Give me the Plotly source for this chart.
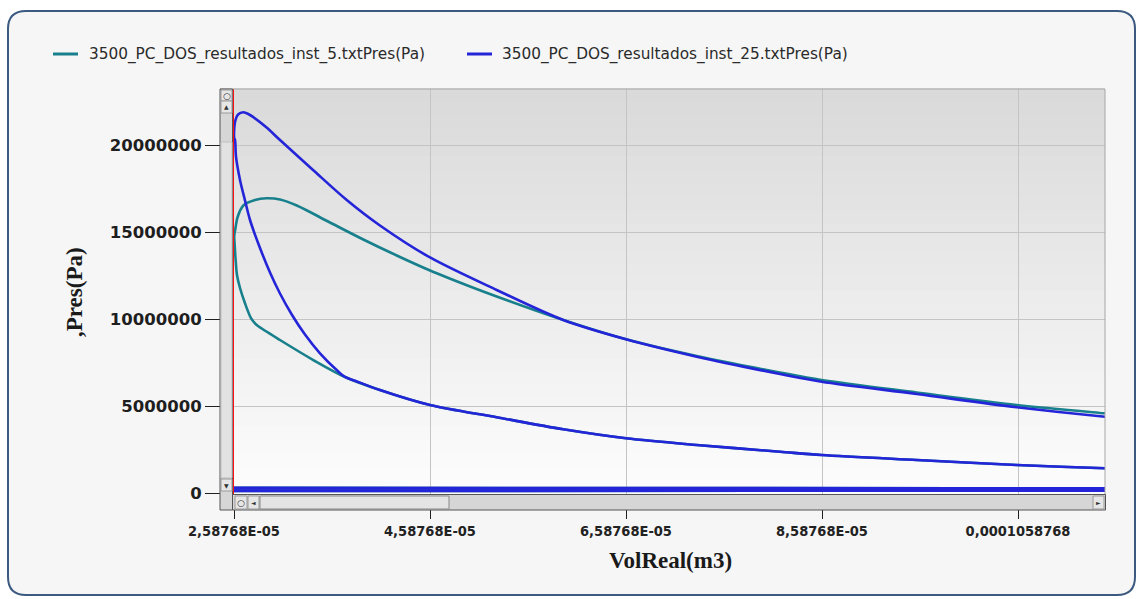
import plotly.graph_objects as go

# ---------------- data (volume in 1e-5 m3, pressure in MPa) ----------------
series_names = ["3500_PC_DOS_resultados_inst_5.txtPres(Pa)",
                "3500_PC_DOS_resultados_inst_25.txtPres(Pa)"]

# inst_25 (blue): compression from BDC to TDC, combustion, expansion back to BDC
vol25 = [12.50, 11.475, 10.574, 9.554, 8.584, 8.159, 7.309, 6.588, 5.948, 5.268, 4.588, 4.077,
         3.822, 3.720, 3.649, 3.465, 3.312, 3.180, 3.057, 2.955, 2.853, 2.751, 2.700, 2.649,
         2.608, 2.598, 2.5897, 2.598, 2.629, 2.683, 2.751, 2.914, 3.057, 3.394, 3.738,
         4.077, 4.588, 5.268, 5.948, 6.588, 7.309, 8.159, 8.584, 9.554, 10.574, 11.475, 12.50]
pres25 = [1.30, 1.447, 1.636, 1.923, 2.210, 2.400, 2.784, 3.169, 3.685, 4.374, 5.080, 5.941,
          6.475, 6.688, 7.015, 8.048, 9.127, 10.247, 11.481, 12.687, 14.093, 15.700, 16.820, 17.996,
          19.334, 20.293, 20.407, 21.326, 21.756, 21.883, 21.728, 21.039, 20.293, 18.571, 16.848,
          15.385, 13.548, 11.682, 9.960, 8.852, 7.853, 6.860, 6.418, 5.712, 4.948, 4.409, 3.95]

# inst_5 (teal)
vol5 = [12.50, 11.475, 10.574, 9.554, 8.584, 8.159, 7.309, 6.588, 5.948, 5.268, 4.588, 4.077,
        3.720, 3.397, 3.057, 2.833, 2.802, 2.761, 2.700, 2.649, 2.618, 2.603, 2.594, 2.590,
        2.603, 2.623, 2.683, 2.802, 2.921, 3.057, 3.228, 3.567, 3.907, 4.248, 4.588, 4.996,
        5.268, 5.948, 6.588, 7.309, 8.159, 8.584, 9.554, 10.574, 11.475, 12.50]
pres5 = [1.30, 1.447, 1.636, 1.923, 2.210, 2.400, 2.784, 3.169, 3.685, 4.374, 5.080, 5.941,
         6.688, 7.663, 8.812, 9.615, 9.770, 10.069, 10.918, 11.797, 12.543, 13.519, 14.323, 14.782,
         15.241, 15.844, 16.533, 16.848, 16.946, 16.877, 16.533, 15.557, 14.581, 13.662, 12.801, 11.883,
         11.309, 9.960, 8.852, 7.893, 6.946, 6.515, 5.798, 5.080, 4.604, 4.12]

# low-pressure strokes (exhaust and intake) for both runs
low_vol = [2.58768, 4.0, 6.0, 8.0, 10.0, 12.5]
exh_pres = [0.31, 0.30, 0.30, 0.29, 0.29, 0.29]
int_pres = [0.16, 0.17, 0.17, 0.17, 0.17, 0.17]

x_tickvals = [2.58768e-05, 4.58768e-05, 6.58768e-05, 8.58768e-05, 0.0001058768]
x_ticktext = ["2,58768E-05", "4,58768E-05", "6,58768E-05", "8,58768E-05", "0,0001058768"]
y_tickvals = [0, 5000000, 10000000, 15000000, 20000000]
y_ticktext = ["0", "5000000", "10000000", "15000000", "20000000"]

colors = ["#18808c", "#2424d8"]

# ---------------- layout geometry ----------------
W, H = 1137, 599
L, R, T, B = 234, 32, 89, 105
PW, PH = W - L - R, H - T - B


def px(x):
    return (x - L) / PW


def py(y):
    return (H - B - y) / PH


def v(lst):
    return [a * 1e-5 for a in lst]


def p(lst):
    return [a * 1e6 for a in lst]


fig = go.Figure()

# low-pressure strokes
for i, c in enumerate(colors):
    fig.add_trace(go.Scatter(x=v(low_vol), y=p(int_pres), mode="lines",
                             line=dict(color=c, width=3), showlegend=False, hoverinfo="skip"))
    fig.add_trace(go.Scatter(x=v(low_vol), y=p(exh_pres), mode="lines",
                             line=dict(color=c, width=3), showlegend=False, hoverinfo="skip"))

fig.add_trace(go.Scatter(x=v(vol5), y=p(pres5), mode="lines", name=series_names[0],
                         line=dict(color=colors[0], width=2.6, shape="spline", smoothing=0.9),
                         showlegend=False))
fig.add_trace(go.Scatter(x=v(vol25), y=p(pres25), mode="lines", name=series_names[1],
                         line=dict(color=colors[1], width=2.6, shape="spline", smoothing=0.9),
                         showlegend=False))

shapes = []
# outer rounded frame
x0, x1, y0, y1, r = 8, 1135, 11, 595, 18
path = (f"M {px(x0 + r)},{py(y0)} L {px(x1 - r)},{py(y0)} Q {px(x1)},{py(y0)} {px(x1)},{py(y0 + r)} "
        f"L {px(x1)},{py(y1 - r)} Q {px(x1)},{py(y1)} {px(x1 - r)},{py(y1)} "
        f"L {px(x0 + r)},{py(y1)} Q {px(x0)},{py(y1)} {px(x0)},{py(y1 - r)} "
        f"L {px(x0)},{py(y0 + r)} Q {px(x0)},{py(y0)} {px(x0 + r)},{py(y0)} Z")
shapes.append(dict(type="path", xref="paper", yref="paper", path=path, layer="below",
                   fillcolor="#f6f6f6", line=dict(color="#3c5a80", width=2)))

# plot-area gradient (light gray at top to white at bottom)
nb = 30
for k in range(nb):
    ya = T + PH * k / nb
    yb = T + PH * (k + 1) / nb
    g = int(round(217 + (253 - 217) * (k + 0.5) / nb))
    shapes.append(dict(type="rect", xref="paper", yref="paper", x0=0, x1=1,
                       y0=py(yb), y1=py(ya) + 0.002, layer="below", line=dict(width=0),
                       fillcolor=f"rgb({g},{g},{g})"))

# plot border top/right
shapes.append(dict(type="line", xref="paper", yref="paper", x0=px(220), x1=px(1105), y0=py(89), y1=py(89),
                   line=dict(color="#a6a6a6", width=1), layer="above"))
shapes.append(dict(type="line", xref="paper", yref="paper", x0=px(1105), x1=px(1105), y0=py(89), y1=py(510),
                   line=dict(color="#a6a6a6", width=1), layer="above"))


# scrollbars
def rect(xa, xb, ya, yb, fill, line="#555555", lw=1):
    shapes.append(dict(type="rect", xref="paper", yref="paper", x0=px(xa), x1=px(xb),
                       y0=py(yb), y1=py(ya), fillcolor=fill, line=dict(color=line, width=lw),
                       layer="above"))


rect(220, 232.5, 89, 510, "#d6d6d6")            # vertical bar + corner
rect(232.5, 1105.5, 494.5, 510, "#d6d6d6")      # horizontal bar
rect(221, 232, 142, 478, "#e2e2e2", "#c0c0c0")  # vertical thumb
rect(221, 232, 90, 101, "#e6e6e6", "#9a9a9a")
rect(221, 232, 101, 113, "#e6e6e6", "#9a9a9a")
rect(221, 232, 479, 491, "#e6e6e6", "#9a9a9a")
rect(235, 247, 496, 509, "#e6e6e6", "#9a9a9a")
rect(248, 259, 496, 509, "#e6e6e6", "#9a9a9a")
rect(260, 449, 496, 509, "#e4e4e4", "#8a8a8a")  # horizontal thumb
rect(1093, 1104, 496, 509, "#e6e6e6", "#9a9a9a")

annotations = []


def txt(x, y, s, size, **kw):
    d = dict(xref="paper", yref="paper", x=px(x), y=py(y), text=s, showarrow=False,
             xanchor="center", yanchor="middle",
             font=dict(size=size, color=kw.pop("color", "#333333"), family=kw.pop("family", "DejaVu Sans")))
    d.update(kw)
    annotations.append(d)


txt(226.5, 95.5, "○", 9)
txt(226.5, 107, "▲", 6)
txt(226.5, 485, "▼", 6)
txt(241, 502.5, "○", 9)
txt(253.5, 502.5, "◄", 6)
txt(1098.5, 502.5, "►", 6)

# legend (drawn manually)
legend_items = [(53, 78, 87), (467, 492, 500)]
for (la, lb, tx), name, c in zip(legend_items, series_names, colors):
    shapes.append(dict(type="line", xref="paper", yref="paper", x0=px(la), x1=px(lb), y0=py(54), y1=py(54),
                       line=dict(color=c, width=3)))
    txt(tx, 54, name, 15.3, xanchor="left", color="#2a2a2a")

# axis titles
txt(670, 560, "<b>VolReal(m3)</b>", 23, family="Liberation Serif", color="#1a1a1a")
txt(74, 292, "<b>,Pres(Pa)</b>", 23, family="Liberation Serif", color="#1a1a1a", textangle=-90)

fig.update_layout(
    width=W, height=H,
    margin=dict(l=L, r=R, t=T, b=B, autoexpand=False),
    paper_bgcolor="#ffffff",
    plot_bgcolor="rgba(0,0,0,0)",
    showlegend=False,
    shapes=shapes,
    annotations=annotations,
    xaxis=dict(range=[2.58768e-05, 2.58768e-05 + PW * 2e-05 / 196], tickvals=x_tickvals, ticktext=x_ticktext,
               showgrid=True, gridcolor="#c4c4c4", gridwidth=1, zeroline=False,
               showline=True, linecolor="#ff1010", linewidth=2,
               ticks="outside", ticklen=23, tickcolor="#202020", tickwidth=1,
               tickfont=dict(family="DejaVu Sans Condensed, DejaVu Sans", size=14.5, color="#222222",
                             weight="bold")),
    yaxis=dict(range=[-0.5 * 57405, (493.5 - 89) * 57405], tickvals=y_tickvals, ticktext=y_ticktext,
               showgrid=True, gridcolor="#c4c4c4", gridwidth=1, zeroline=False,
               showline=True, linecolor="#ff1010", linewidth=2,
               ticks="outside", ticklen=27, tickcolor="#202020", tickwidth=1,
               tickfont=dict(family="DejaVu Sans", size=16.5, color="#1e1e1e", weight="bold")),
)

fig.write_html("out.html", config={"displayModeBar": False},
               post_script="document.body.style.margin='0';document.body.style.overflow='hidden';")
